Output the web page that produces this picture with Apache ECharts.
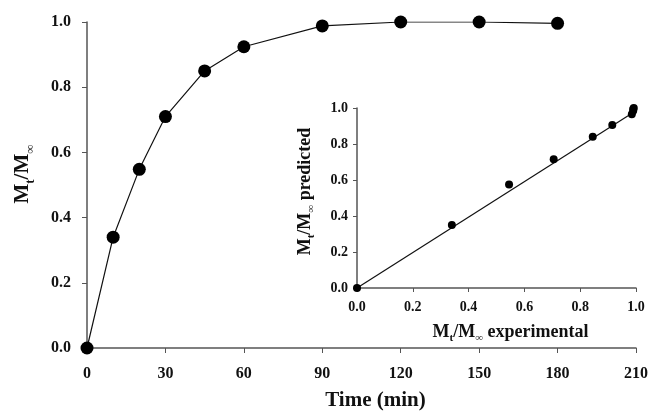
<!DOCTYPE html>
<html>
<head>
<meta charset="utf-8">
<script src="https://cdn.jsdelivr.net/npm/echarts@6/dist/echarts.min.js"></script>
<style>
  html, body { margin: 0; padding: 0; background: #fff; }
  #chart { width: 651px; height: 416px; }
</style>
</head>
<body>
<div id="chart"></div>
<script>
  // release profile (main plot)
  var timeMin = [0, 10, 20, 30, 45, 60, 90, 120, 150, 180];
  var released = [0.0, 0.34, 0.548, 0.71, 0.85, 0.924, 0.988, 1.0, 1.0, 0.996];
  var timeTicks = [0, 30, 60, 90, 120, 150, 180, 210];

  // inset: predicted vs experimental
  var expVals = [0.0, 0.34, 0.545, 0.705, 0.845, 0.915, 0.985, 0.99, 0.99, 0.992];
  var predVals = [0.0, 0.35, 0.575, 0.715, 0.84, 0.905, 0.965, 0.985, 0.995, 1.0];
  var fitLine = [[0, 0], [0.99, 0.975]];

  var font = 'Liberation Serif';
  var axisGrey = '#555';

  var chart = echarts.init(document.getElementById('chart'));

  // subscripts: same line box, small tokens pushed to the bottom of it
  function subRich(big, small, lh) {
    return {
      m: { fontFamily: font, fontWeight: 'bold', fontSize: big, color: '#111', lineHeight: lh, verticalAlign: 'middle' },
      s: { fontFamily: font, fontWeight: 'bold', fontSize: small, color: '#111', lineHeight: lh, verticalAlign: 'bottom' },
      g: { fontFamily: font, fontWeight: 'normal', fontSize: small, color: '#333', lineHeight: lh, verticalAlign: 'bottom' }
    };
  }

  var option = {
    backgroundColor: '#fff',
    animation: false,
    grid: [
      { left: 87, right: 14, top: 22, bottom: 64 },
      { left: 357, right: 15, top: 108, bottom: 128 }
    ],
    xAxis: [
      {
        gridIndex: 0, type: 'value', min: 0, max: 210, interval: 30,
        name: 'Time (min)', nameLocation: 'middle', nameGap: 42,
        nameTextStyle: { fontFamily: font, fontWeight: 'bold', fontSize: 21, color: '#111', padding: [0, 0, 0, 28] },
        axisLine: { lineStyle: { color: axisGrey, width: 1.5 } },
        axisTick: { length: 5, lineStyle: { color: axisGrey } },
        splitLine: { show: false },
        axisLabel: {
          margin: 18, fontFamily: font, fontWeight: 'bold', fontSize: 16, color: '#111',
          customValues: timeTicks
        }
      },
      {
        gridIndex: 1, type: 'value', min: 0, max: 1, interval: 0.2,
        name: '{m|M}{s|t}{m|/M}{g|∞}{m| experimental}', nameLocation: 'middle', nameGap: 32,
        nameTextStyle: { rich: subRich(18, 11, 24), padding: [0, 0, 0, 28] },
        axisLine: { lineStyle: { color: axisGrey, width: 1.5 } },
        axisTick: { length: 4, lineStyle: { color: axisGrey } },
        splitLine: { show: false },
        axisLabel: {
          margin: 12, fontFamily: font, fontWeight: 'bold', fontSize: 14, color: '#111',
          formatter: function (v) { return v.toFixed(1); }
        }
      }
    ],
    yAxis: [
      {
        gridIndex: 0, type: 'value', min: 0, max: 1, interval: 0.2,
        name: '{m|M}{s|t}{m|/M}{g|∞}', nameLocation: 'middle', nameGap: 50, nameRotate: 90,
        nameTextStyle: { rich: subRich(21, 13, 28), padding: [0, 0, 0, 22] },
        axisLine: { show: true, lineStyle: { color: axisGrey, width: 1.5 } },
        axisTick: { show: true, length: 5, lineStyle: { color: axisGrey } },
        splitLine: { show: false },
        axisLabel: {
          margin: 16, fontFamily: font, fontWeight: 'bold', fontSize: 16, color: '#111',
          formatter: function (v) { return v.toFixed(1); }
        }
      },
      {
        gridIndex: 1, type: 'value', min: 0, max: 1, interval: 0.2,
        name: '{m|M}{s|t}{m|/M}{g|∞}{m| predicted}', nameLocation: 'middle', nameGap: 40, nameRotate: 90,
        nameTextStyle: { rich: subRich(18, 11, 24), padding: [0, 0, 0, 13] },
        axisLine: { show: true, lineStyle: { color: axisGrey, width: 1.5 } },
        axisTick: { show: true, length: 4, lineStyle: { color: axisGrey } },
        splitLine: { show: false },
        axisLabel: {
          margin: 9, fontFamily: font, fontWeight: 'bold', fontSize: 14, color: '#111',
          formatter: function (v) { return v.toFixed(1); }
        }
      }
    ],
    series: [
      {
        type: 'line', xAxisIndex: 0, yAxisIndex: 0,
        data: timeMin.map(function (t, i) { return [t, released[i]]; }),
        symbol: 'circle', symbolSize: 13,
        itemStyle: { color: '#000' },
        lineStyle: { color: '#111', width: 1.2 },
        z: 3
      },
      {
        type: 'line', xAxisIndex: 1, yAxisIndex: 1,
        data: fitLine, symbol: 'none',
        lineStyle: { color: '#111', width: 1.2 }
      },
      {
        type: 'scatter', xAxisIndex: 1, yAxisIndex: 1,
        data: expVals.map(function (x, i) { return [x, predVals[i]]; }),
        symbol: 'circle', symbolSize: 8,
        itemStyle: { color: '#000', opacity: 1 },
        z: 3
      }
    ]
  };

  chart.setOption(option);
</script>
</body>
</html>
